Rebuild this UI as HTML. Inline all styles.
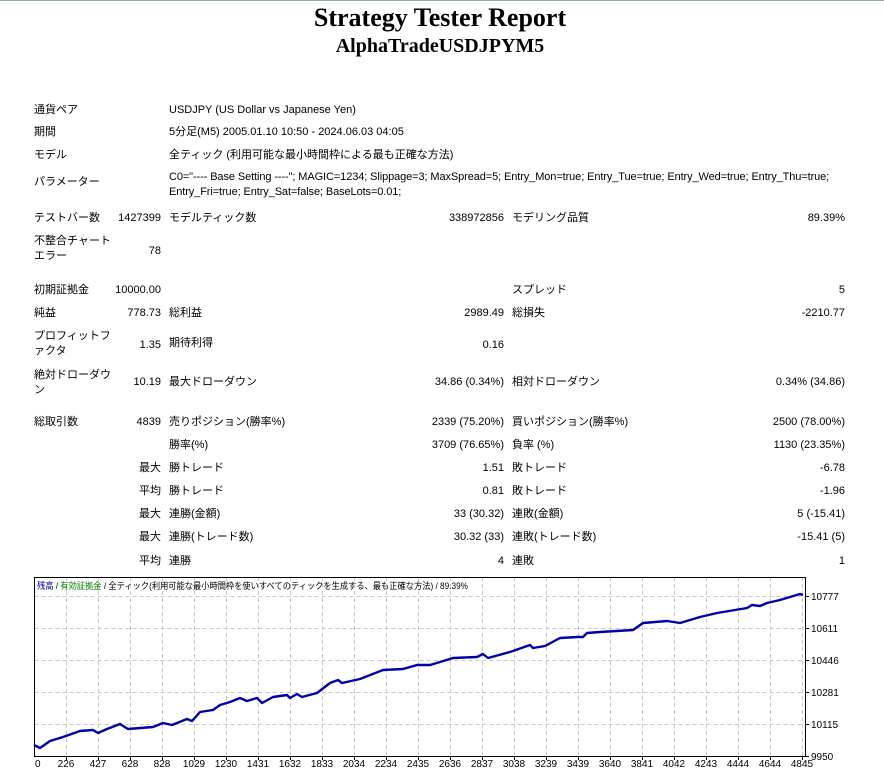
<!DOCTYPE html>
<html><head><meta charset="utf-8"><style>
body{margin:0;width:884px;height:772px;background:#fff;position:relative;overflow:hidden;font-family:"Liberation Sans","Noto Sans CJK JP",sans-serif;}
.t{position:absolute;font-size:11px;line-height:15px;white-space:nowrap;color:#000}
.r{text-align:right}
h1,h2{position:absolute;left:0;width:880px;text-align:center;margin:0;font-family:"Liberation Serif",serif;font-weight:bold}
</style></head><body>
<div style="position:absolute;left:0;top:0;width:884px;height:1px;background:#8aa8a8"></div>
<h1 style="top:3px;font-size:26px;line-height:30px">Strategy Tester Report</h1>
<h2 style="top:34px;font-size:20px;line-height:24px">AlphaTradeUSDJPYM5</h2>

<div class="t" style="left:34px;top:103px">通貨ペア</div>
<div class="t" style="left:169px;top:103px">USDJPY (US Dollar vs Japanese Yen)</div>
<div class="t" style="left:34px;top:125px">期間</div>
<div class="t" style="left:169px;top:125px">5分足(M5) 2005.01.10 10:50 - 2024.06.03 04:05</div>
<div class="t" style="left:34px;top:148px">モデル</div>
<div class="t" style="left:169px;top:148px">全ティック (利用可能な最小時間枠による最も正確な方法)</div>
<div class="t" style="left:34px;top:175px">パラメーター</div>
<div class="t" style="left:169px;top:170px;letter-spacing:-0.1px">C0="---- Base Setting ----"; MAGIC=1234; Slippage=3; MaxSpread=5; Entry_Mon=true; Entry_Tue=true; Entry_Wed=true; Entry_Thu=true;</div>
<div class="t" style="left:169px;top:185px;letter-spacing:-0.1px">Entry_Fri=true; Entry_Sat=false; BaseLots=0.01;</div>

<div class="t" style="left:34px;top:211px">テストバー数</div>
<div class="t r" style="right:723px;top:211px">1427399</div>
<div class="t" style="left:169px;top:211px">モデルティック数</div>
<div class="t r" style="right:380px;top:211px">338972856</div>
<div class="t" style="left:512px;top:211px">モデリング品質</div>
<div class="t r" style="right:39px;top:211px">89.39%</div>

<div class="t" style="left:34px;top:234px">不整合チャート</div>
<div class="t" style="left:34px;top:249px">エラー</div>
<div class="t r" style="right:723px;top:244px">78</div>

<div class="t" style="left:34px;top:283px">初期証拠金</div>
<div class="t r" style="right:723px;top:283px">10000.00</div>
<div class="t" style="left:512px;top:283px">スプレッド</div>
<div class="t r" style="right:39px;top:283px">5</div>

<div class="t" style="left:34px;top:306px">純益</div>
<div class="t r" style="right:723px;top:306px">778.73</div>
<div class="t" style="left:169px;top:306px">総利益</div>
<div class="t r" style="right:380px;top:306px">2989.49</div>
<div class="t" style="left:512px;top:306px">総損失</div>
<div class="t r" style="right:39px;top:306px">-2210.77</div>

<div class="t" style="left:34px;top:329px">プロフィットフ</div>
<div class="t" style="left:34px;top:344px">ァクタ</div>
<div class="t r" style="right:723px;top:338px">1.35</div>
<div class="t" style="left:169px;top:336px">期待利得</div>
<div class="t r" style="right:380px;top:338px">0.16</div>

<div class="t" style="left:34px;top:368px">絶対ドローダウ</div>
<div class="t" style="left:34px;top:383px">ン</div>
<div class="t r" style="right:723px;top:375px">10.19</div>
<div class="t" style="left:169px;top:375px">最大ドローダウン</div>
<div class="t r" style="right:380px;top:375px">34.86 (0.34%)</div>
<div class="t" style="left:512px;top:375px">相対ドローダウン</div>
<div class="t r" style="right:39px;top:375px">0.34% (34.86)</div>

<div class="t" style="left:34px;top:415px">総取引数</div>
<div class="t r" style="right:723px;top:415px">4839</div>
<div class="t" style="left:169px;top:415px">売りポジション(勝率%)</div>
<div class="t r" style="right:380px;top:415px">2339 (75.20%)</div>
<div class="t" style="left:512px;top:415px">買いポジション(勝率%)</div>
<div class="t r" style="right:39px;top:415px">2500 (78.00%)</div>

<div class="t" style="left:169px;top:438px">勝率(%)</div>
<div class="t r" style="right:380px;top:438px">3709 (76.65%)</div>
<div class="t" style="left:512px;top:438px">負率 (%)</div>
<div class="t r" style="right:39px;top:438px">1130 (23.35%)</div>

<div class="t r" style="right:723px;top:461px">最大</div>
<div class="t" style="left:169px;top:461px">勝トレード</div>
<div class="t r" style="right:380px;top:461px">1.51</div>
<div class="t" style="left:512px;top:461px">敗トレード</div>
<div class="t r" style="right:39px;top:461px">-6.78</div>

<div class="t r" style="right:723px;top:484px">平均</div>
<div class="t" style="left:169px;top:484px">勝トレード</div>
<div class="t r" style="right:380px;top:484px">0.81</div>
<div class="t" style="left:512px;top:484px">敗トレード</div>
<div class="t r" style="right:39px;top:484px">-1.96</div>

<div class="t r" style="right:723px;top:507px">最大</div>
<div class="t" style="left:169px;top:507px">連勝(金額)</div>
<div class="t r" style="right:380px;top:507px">33 (30.32)</div>
<div class="t" style="left:512px;top:507px">連敗(金額)</div>
<div class="t r" style="right:39px;top:507px">5 (-15.41)</div>

<div class="t r" style="right:723px;top:530px">最大</div>
<div class="t" style="left:169px;top:530px">連勝(トレード数)</div>
<div class="t r" style="right:380px;top:530px">30.32 (33)</div>
<div class="t" style="left:512px;top:530px">連敗(トレード数)</div>
<div class="t r" style="right:39px;top:530px">-15.41 (5)</div>

<div class="t r" style="right:723px;top:554px">平均</div>
<div class="t" style="left:169px;top:554px">連勝</div>
<div class="t r" style="right:380px;top:554px">4</div>
<div class="t" style="left:512px;top:554px">連敗</div>
<div class="t r" style="right:39px;top:554px">1</div>

<svg style="position:absolute;left:0;top:0" width="884" height="772" xmlns="http://www.w3.org/2000/svg">
<g stroke="#c8c8c8" stroke-width="1" stroke-dasharray="4,3" fill="none">
<path d="M34.5 596.5H805M34.5 628.5H805M34.5 660.5H805M34.5 692.5H805M34.5 724.5H805"/>
<path d="M66.5 577V756M98.5 577V756M130.5 577V756M162.5 577V756M194.5 577V756M226.5 577V756M258.5 577V756M290.5 577V756M322.5 577V756M354.5 577V756M386.5 577V756M418.5 577V756M450.5 577V756M482.5 577V756M514.5 577V756M546.5 577V756M578.5 577V756M610.5 577V756M642.5 577V756M674.5 577V756M706.5 577V756M738.5 577V756M770.5 577V756M802.5 577V756"/>
</g>
<rect x="34.5" y="577.5" width="771" height="179" fill="none" stroke="#000"/>
<g stroke="#000"><path d="M805 596.5h4M805 628.5h4M805 660.5h4M805 692.5h4M805 724.5h4M805 756.5h4"/>
<path d="M66.5 757v3M98.5 757v3M130.5 757v3M162.5 757v3M194.5 757v3M226.5 757v3M258.5 757v3M290.5 757v3M322.5 757v3M354.5 757v3M386.5 757v3M418.5 757v3M450.5 757v3M482.5 757v3M514.5 757v3M546.5 757v3M578.5 757v3M610.5 757v3M642.5 757v3M674.5 757v3M706.5 757v3M738.5 757v3M770.5 757v3M802.5 757v3"/></g>
<polyline fill="none" stroke="#0000a8" stroke-width="2.4" stroke-linejoin="round" points="34,745 40,748 50,741 63,737 80,731 93,730 98,733 107,729 120,724 128,729 153,727 163,723 172,725 187,719 192,721 200,712 213,710 220,705 230,702 240,698 247,701 257,698 262,703 273,697 287,695 290,698 297,694 302,697 317,693 330,683 338,680 342,683 360,679 383,670 403,669 417,665 430,665 440,662 453,658 477,657 483,654 488,658 510,652 530,645 533,648 545,646 560,638 577,637 583,637 587,633 600,632 633,630 643,623 667,621 680,623 700,617 717,613 747,608 752,605 760,606 767,603 780,600 790,597 800,594 803,595"/>
<g font-family="Liberation Sans, sans-serif" font-size="10" fill="#000">
<text x="811" y="600">10777</text><text x="811" y="632">10611</text><text x="811" y="664">10446</text><text x="811" y="696">10281</text><text x="811" y="728">10115</text><text x="811" y="760">9950</text>
<text x="35" y="767">0</text>
<g text-anchor="middle">
<text x="66" y="767">226</text><text x="98" y="767">427</text><text x="130" y="767">628</text><text x="162" y="767">828</text><text x="194" y="767">1029</text><text x="226" y="767">1230</text><text x="258" y="767">1431</text><text x="290" y="767">1632</text><text x="322" y="767">1833</text><text x="354" y="767">2034</text><text x="386" y="767">2234</text><text x="418" y="767">2435</text><text x="450" y="767">2636</text><text x="482" y="767">2837</text><text x="514" y="767">3038</text><text x="546" y="767">3239</text><text x="578" y="767">3439</text><text x="610" y="767">3640</text><text x="642" y="767">3841</text><text x="674" y="767">4042</text><text x="706" y="767">4243</text><text x="738" y="767">4444</text><text x="770" y="767">4644</text><text x="802" y="767">4845</text>
</g>
</g>
<text x="37" y="589" font-family="Liberation Sans, Noto Sans CJK JP, sans-serif" font-size="9" textLength="431" lengthAdjust="spacingAndGlyphs"><tspan fill="#0000a8">残高</tspan><tspan fill="#000"> / </tspan><tspan fill="#008000">有効証拠金</tspan><tspan fill="#000"> / 全ティック(利用可能な最小時間枠を使いすべてのティックを生成する、最も正確な方法) / 89.39%</tspan></text>
</svg>
</body></html>
